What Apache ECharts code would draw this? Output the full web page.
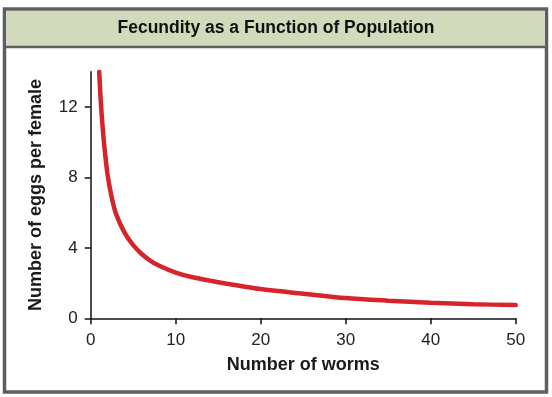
<!DOCTYPE html>
<html>
<head>
<meta charset="utf-8">
<script src="https://cdn.jsdelivr.net/npm/echarts@6/dist/echarts.min.js"></script>
<style>
  html, body { margin: 0; padding: 0; background: #fff; }
  #chart { width: 552px; height: 397px; }
</style>
</head>
<body>
<div id="chart"></div>
<script>
// values
const wormCounts = [1.0, 1.2, 1.5, 1.75, 2, 2.5, 3, 4, 5, 6, 7, 8, 10, 12, 15, 20, 25, 30, 35, 40, 45, 50];
const eggsPerFemale = [14, 12.2, 10.3, 9.1, 8.1, 6.8, 5.9, 4.85, 4.15, 3.65, 3.28, 3.0, 2.6, 2.33, 2.05, 1.66, 1.4, 1.15, 1.0, 0.88, 0.8, 0.75];
const yTicks = [0, 4, 8, 12];
const xTicks = [0, 10, 20, 30, 40, 50];

const FONT = "Liberation Sans, Arial, sans-serif";
const chart = echarts.init(document.getElementById("chart"), null, { renderer: "canvas" });

chart.setOption({
  animation: false,
  backgroundColor: "#fff",
  graphic: [
    {
      type: "rect",
      shape: { x: 4.5, y: 9, width: 542, height: 383 },
      style: { fill: "#fff", stroke: "#5f5f5f", lineWidth: 3.5 },
      z: -10
    },
    {
      type: "rect",
      shape: { x: 6.5, y: 11, width: 538, height: 35 },
      style: { fill: "#d1dbbb" },
      z: -9
    },
    {
      type: "line",
      shape: { x1: 6, y1: 47, x2: 546, y2: 47 },
      style: { stroke: "#5f5f5f", lineWidth: 2.5 },
      z: -9
    },
    {
      type: "text",
      x: 276, y: 28,
      style: {
        text: "Fecundity as a Function of Population",
        font: "bold 17.5px " + FONT,
        fill: "#111",
        align: "center",
        verticalAlign: "middle"
      }
    }
  ],
  grid: { left: 90.7, right: 36.3, top: 71.7, bottom: 78.7, containLabel: false },
  xAxis: {
    type: "value",
    min: 0, max: 50, interval: 10,
    name: "Number of worms",
    nameLocation: "middle",
    nameGap: 38,
    nameTextStyle: { fontFamily: FONT, fontWeight: "bold", fontSize: 18, color: "#1a1a1a" },
    axisLine: { lineStyle: { color: "#111", width: 1.5 } },
    axisTick: { show: true, length: 6, lineStyle: { color: "#111", width: 1.5 }, customValues: xTicks },
    axisLabel: { customValues: xTicks, margin: 14, fontFamily: FONT, fontSize: 17, color: "#222" },
    splitLine: { show: false }
  },
  yAxis: {
    type: "value",
    min: 0, max: 14, interval: 4,
    name: "Number of eggs per female",
    nameLocation: "middle",
    nameGap: 46,
    nameTextStyle: { fontFamily: FONT, fontWeight: "bold", fontSize: 18, color: "#1a1a1a" },
    axisLine: { show: true, lineStyle: { color: "#111", width: 1.5 } },
    axisTick: { show: true, length: 6, lineStyle: { color: "#111", width: 1.5 }, customValues: yTicks },
    axisLabel: { customValues: yTicks, margin: 13, fontFamily: FONT, fontSize: 17, color: "#222" },
    splitLine: { show: false }
  },
  series: [
    {
      type: "line",
      data: wormCounts.map((x, i) => [x, eggsPerFemale[i]]),
      smooth: 0.3,
      showSymbol: false,
      lineStyle: { color: "#d6242c", width: 4.5, cap: "round" }
    }
  ]
});
</script>
</body>
</html>
